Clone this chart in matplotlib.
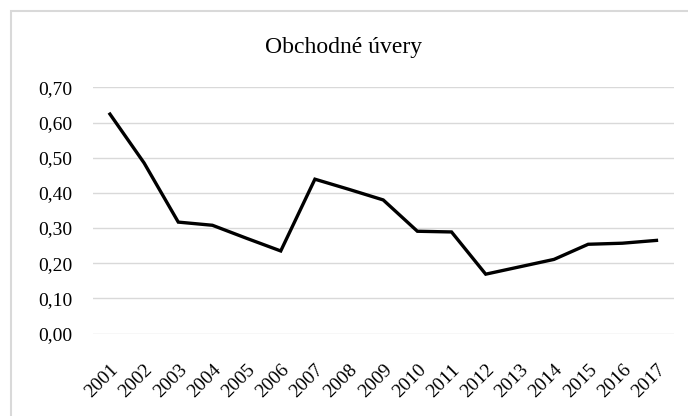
import matplotlib
matplotlib.use("Agg")
import matplotlib.pyplot as plt
from matplotlib.patches import Rectangle
from matplotlib.ticker import FuncFormatter

years = [str(y) for y in range(2001, 2018)]
values = [0.624, 0.485, 0.317, 0.308, 0.271, 0.235, 0.439, 0.410, 0.380,
          0.291, 0.289, 0.169, 0.190, 0.211, 0.254, 0.257, 0.265]
yticks = [0.0, 0.1, 0.2, 0.3, 0.4, 0.5, 0.6, 0.7]

plt.rcParams['font.family'] = ['Liberation Serif', 'DejaVu Serif']

fig = plt.figure(figsize=(6.88, 4.16), dpi=100)
ax = fig.add_axes([0.135, 0.198, 0.844, 0.592])

# chart frame (runs off the right and bottom edges in the original)
fig.patches.append(Rectangle((11 / 688, -0.1), 1.0, 1.1 - 11 / 416,
                             transform=fig.transFigure, fill=False,
                             edgecolor='#d9d9d9', linewidth=1.5))

x = list(range(len(years)))
ax.plot(x, values, color='black', linewidth=2.4, solid_joinstyle='miter')

ax.set_xlim(-0.5, len(years) - 0.5)
ax.set_ylim(0, 0.7)
ax.set_yticks(yticks)
ax.yaxis.set_major_formatter(FuncFormatter(lambda v, p: f"{v:.2f}".replace('.', ',')))
ax.set_xticks(x)
ax.set_xticklabels(years, rotation=45, ha='right', va='top', rotation_mode='anchor')

ax.grid(axis='y', color='#d9d9d9', linewidth=1.0)
ax.set_axisbelow(True)
for s in ax.spines.values():
    s.set_visible(False)
ax.tick_params(axis='y', length=0, pad=15, labelsize=14)
ax.tick_params(axis='x', length=0, pad=20, labelsize=14)

fig.text(0.5, 1 - 48 / 416, "Obchodné úvery", ha='center', va='center', fontsize=17)

fig.savefig("out.png", dpi=100)
